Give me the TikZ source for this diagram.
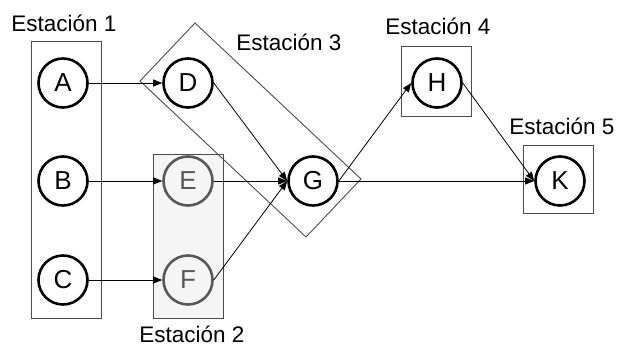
\documentclass[tikz,border=0pt]{standalone}
\usepackage{fontspec}
\setmainfont{Liberation Sans}
\usetikzlibrary{arrows.meta}
\begin{document}
\begin{tikzpicture}[x=1pt,y=-1pt,
		estado/.style={draw,circle,line width=2.6pt,minimum size=49pt,inner sep=0pt,font=\fontsize{26}{30}\selectfont},
		gris/.style={draw=black!65,text=black!65},
		estacion/.style={draw=black!70,line width=0.9pt},
		etiqueta/.style={font=\fontsize{22.5}{27}\selectfont},
		flecha/.style={-{Triangle[length=9pt,width=7pt]},line width=0.8pt}]
			\useasboundingbox (0,0) rectangle (622,350);
			% estaciones
			\draw[estacion] (31,41) rectangle (101,318);
			\draw[estacion,fill=black!4] (153,154) rectangle (223,318);
			\draw[estacion] (140,81) -- (195,23) -- (361,179) -- (306,237) -- cycle;
			\draw[estacion] (401,46) rectangle (471,116);
			\draw[estacion] (523,145) rectangle (593,213);
			\node[etiqueta] (est1) at (64,23)  {Estación 1};
			\node[etiqueta] (est2) at (192,334) {Estación 2};
			\node[etiqueta] (est3) at (289,42)  {Estación 3};
			\node[etiqueta] (est4) at (438,26)  {Estación 4};
			\node[etiqueta] (est5) at (562,126) {Estación 5};
			%
			\node[estado] (vA) at (63, 83)	{A};
			\node[estado] (vB) at (63, 181)	{B};
			\node[estado] (vC) at (63, 280)	{C};
			\node[estado] (vD) at (188,83)	{D};
			\node[estado,gris] (vE) at (188,181)	{E};
			\node[estado,gris] (vF) at (188,280)	{F};
			\node[estado] (vG) at (313,181)	{G};
			\node[estado] (vH) at (437,83)	{H};
			\node[estado] (vK) at (560,181)	{K};
			%
			\def\list {vA/vD, vB/vE, vC/vF, vD/vG, vE/vG, vF/vG, vG/vH, vG/vK, vH/vK}  % list elements
			\foreach \u\v in \list
			{	\draw[flecha] (\u.east) -- (\v.west);
			}
			%
		\end{tikzpicture}
\end{document}
